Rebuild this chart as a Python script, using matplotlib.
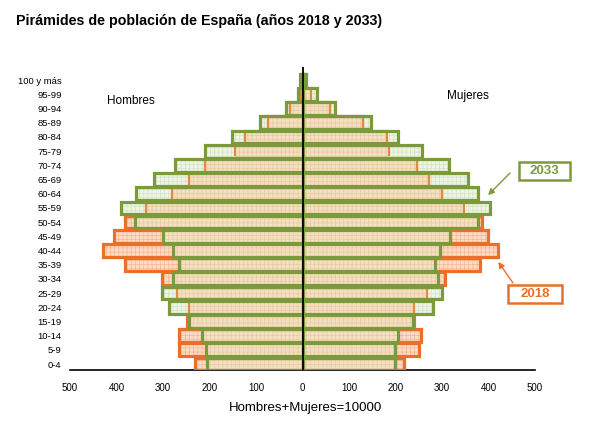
import numpy as np
import matplotlib.pyplot as plt
from matplotlib.patches import Rectangle

edades = ['0-4', '5-9', '10-14', '15-19', '20-24', '25-29', '30-34', '35-39',
          '40-44', '45-49', '50-54', '55-59', '60-64', '65-69', '70-74',
          '75-79', '80-84', '85-89', '90-94', '95-99', '100 y más']

hombres_2018 = [231, 265, 266, 249, 245, 270, 302, 382, 429, 405, 381,
                337, 280, 245, 210, 145, 123, 74, 26, 4, 2]
hombres_2033 = [206, 208, 217, 245, 288, 302, 279, 265, 279, 300, 360,
                390, 358, 320, 275, 209, 152, 92, 35, 10, 5]
mujeres_2018 = [219, 251, 255, 240, 239, 268, 306, 382, 420, 398, 385,
                348, 300, 271, 246, 185, 181, 131, 60, 18, 5]
mujeres_2033 = [198, 198, 206, 237, 280, 301, 291, 284, 296, 318, 377,
                403, 377, 356, 315, 257, 206, 148, 70, 32, 8]

ticks = [-500, -400, -300, -200, -100, 0, 100, 200, 300, 400, 500]

NARANJA = '#e8702a'
VERDE = '#7b9a3c'

plt.rcParams['font.family'] = ['Liberation Sans', 'DejaVu Sans']
plt.rcParams['hatch.linewidth'] = 0.5

fig = plt.figure(figsize=(6.04, 4.32), dpi=100)
ax = fig.add_axes([0.1159, 0.1435, 0.7699, 0.7005])

y = np.arange(len(edades))
h = 0.9


def piramide(v18, v33, signo):
    v18 = signo * np.array(v18)
    v33 = signo * np.array(v33)
    comun = signo * np.minimum(np.abs(v18), np.abs(v33))
    # 2018
    ax.barh(y, v18, height=h, color='#fcdcc6', edgecolor='#f6b790',
            hatch='++++', linewidth=0, zorder=2)
    ax.barh(y, v18, height=h, fill=False, edgecolor=NARANJA, linewidth=2.3, zorder=3)
    # 2033
    ax.barh(y, v33, height=h, color='#eef4e6', edgecolor='#d5e3c2',
            hatch='++++', linewidth=0, zorder=4)
    # zona comun
    ax.barh(y, comun, height=h, color='#f3e0c3', edgecolor='#ebc9a0',
            hatch='++++', linewidth=0, zorder=5)
    # marca del 2018 dentro de la barra 2033
    m = np.abs(v18) < np.abs(v33)
    ax.vlines(v18[m], y[m] - h / 2 + 0.08, y[m] + h / 2 - 0.08,
              color='#e8883f', linewidth=1.6, zorder=6)
    ax.barh(y, v33, height=h, fill=False, edgecolor=VERDE, linewidth=2.3, zorder=7)


piramide(hombres_2018, hombres_2033, -1)
piramide(mujeres_2018, mujeres_2033, 1)

ax.axvline(0, color='black', linewidth=1.3, zorder=8)

ax.set_xlim(-500, 500)
ax.set_ylim(-0.42, 20.9)
ax.set_xticks(ticks)
ax.set_xticklabels([str(abs(t)) for t in ticks], fontsize=7)
ax.set_yticks(y)
ax.set_yticklabels(edades, fontsize=6.8)
ax.tick_params(axis='both', length=0)
ax.tick_params(axis='x', pad=9)
ax.tick_params(axis='y', pad=6)
for s in ['top', 'left', 'right']:
    ax.spines[s].set_visible(False)
ax.spines['bottom'].set_color('black')
ax.spines['bottom'].set_linewidth(1.2)

ax.text(-420, 18.5, 'Hombres', fontsize=8.5, va='center')
ax.text(310, 18.9, 'Mujeres', fontsize=8.5, va='center')

fig.text(0.505, 0.056, 'Hombres+Mujeres=10000', fontsize=9.5, ha='center', va='center')
fig.text(0.027, 0.951, 'Pirámides de población de España (años 2018 y 2033)',
         fontsize=10.3, fontweight='bold', va='center')

# etiquetas 2033 / 2018
W, H = 604, 432
for (x0, y0, x1, y1), txt, col in [((519, 162, 570, 180), '2033', VERDE),
                                   ((508, 285, 562, 303), '2018', NARANJA)]:
    fig.patches.append(Rectangle((x0 / W, 1 - y1 / H), (x1 - x0) / W, (y1 - y0) / H,
                                 transform=fig.transFigure, fc='white', ec=col, lw=1.8))
    fig.text((x0 + x1) / 2 / W, 1 - (y0 + y1) / 2 / H, txt, fontsize=9.5,
             fontweight='bold', color=col, ha='center', va='center')

ax.annotate('', xy=(399, 11.9), xytext=(510 / W, 1 - 173 / H),
            textcoords='figure fraction', annotation_clip=False,
            arrowprops=dict(arrowstyle='-|>', color=VERDE, lw=1, shrinkA=0, shrinkB=0,
                            mutation_scale=9))
ax.annotate('', xy=(421, 7.2), xytext=(513 / W, 1 - 283 / H),
            textcoords='figure fraction', annotation_clip=False,
            arrowprops=dict(arrowstyle='-|>', color=NARANJA, lw=1, shrinkA=0, shrinkB=0,
                            mutation_scale=9))

fig.savefig('out.png', dpi=100)
